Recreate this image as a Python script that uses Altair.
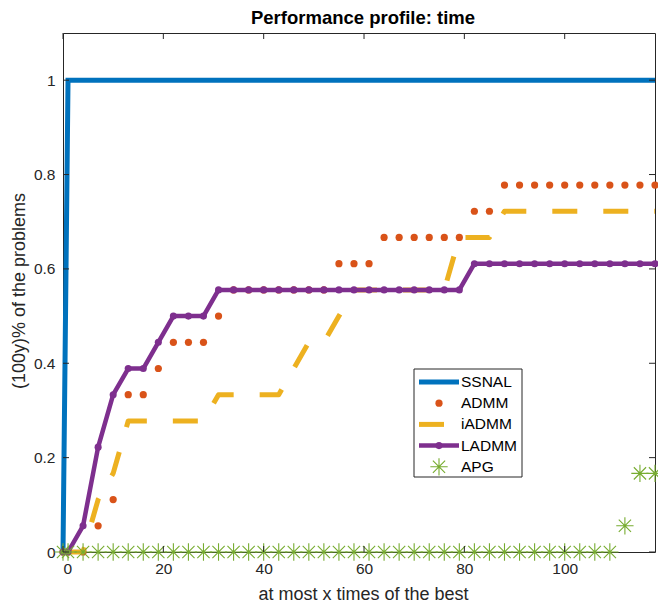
import altair as alt
import pandas as pd

# ---------------- data ----------------
n_problems = 18
x_grid = [0, 1, 4, 7, 10, 13, 16, 19, 22, 25, 28, 31, 34, 37, 40, 43, 46, 49, 52, 55,
          58, 61, 64, 67, 70, 73, 76, 79, 82, 85, 88, 91, 94, 97, 100, 103, 106, 109,
          112, 115, 118]
ssnal_counts = [0, 18, 18, 18, 18, 18, 18, 18, 18, 18, 18, 18, 18, 18, 18, 18, 18, 18, 18, 18,
                18, 18, 18, 18, 18, 18, 18, 18, 18, 18, 18, 18, 18, 18, 18, 18, 18, 18,
                18, 18, 18]
admm_counts = [0, 0, 0, 1, 2, 6, 6, 7, 8, 8, 8, 9, 10, 10, 10, 10, 10, 10, 10, 11,
               11, 11, 12, 12, 12, 12, 12, 12, 13, 13, 14, 14, 14, 14, 14, 14, 14, 14,
               14, 14, 14]
iadmm_counts = [0, 0, 0, 2, 3, 5, 5, 5, 5, 5, 5, 6, 6, 6, 6, 6, 7, 8, 8, 9,
                10, 10, 10, 10, 10, 10, 10, 12, 12, 12, 13, 13, 13, 13, 13, 13, 13, 13,
                13, 13, 13]
ladmm_counts = [0, 0, 1, 4, 6, 7, 7, 8, 9, 9, 9, 10, 10, 10, 10, 10, 10, 10, 10, 10,
                10, 10, 10, 10, 10, 10, 10, 10, 11, 11, 11, 11, 11, 11, 11, 11, 11, 11,
                11, 11, 11]
apg_counts = [0, 0, 0, 0, 0, 0, 0, 0, 0, 0, 0, 0, 0, 0, 0, 0, 0, 0, 0, 0,
              0, 0, 0, 0, 0, 0, 0, 0, 0, 0, 0, 0, 0, 0, 0, 0, 0, 0,
              1, 3, 3]

series_names = ["SSNAL", "ADMM", "iADMM", "LADMM", "APG"]
series_colors = ["#0072BD", "#D95319", "#EDB120", "#7E2F8E", "#77AC30"]
x_ticks = [0, 20, 40, 60, 80, 100]
y_ticks = [0, 0.2, 0.4, 0.6, 0.8, 1]
x_domain = [0, 118]
y_domain = [0, 1.1]

chart_title = "Performance profile: time"
x_title = "at most x times of the best"
y_title = "(100y)% of the problems"

# ---------------- layout / style ----------------
W, H = 592, 519
FONT = "Liberation Sans"
AX = "#262626"
STAR = "M-1,0L1,0M0,-1L0,1M-0.707,-0.707L0.707,0.707M-0.707,0.707L0.707,-0.707"


def frame(counts):
    return pd.DataFrame({"x": x_grid, "y": [c / n_problems for c in counts]})


xs = alt.Scale(domain=x_domain, nice=False, zero=False)
ys = alt.Scale(domain=y_domain, nice=False, zero=False)

x_axis = alt.Axis(values=x_ticks, ticks=False, tickSize=0, domain=False, grid=False,
                  labelFont=FONT, labelFontSize=15.5, labelColor=AX, labelPadding=9,
                  title=x_title, titleFont=FONT, titleFontSize=18, titleFontWeight="normal",
                  titleColor=AX, titleX=W / 2 + 4, titleY=42, titleBaseline="middle")
y_axis = alt.Axis(values=y_ticks, format="~g", ticks=False, tickSize=0, domain=False, grid=False,
                  labelFont=FONT, labelFontSize=15.5, labelColor=AX, labelPadding=8,
                  title=y_title, titleFont=FONT, titleFontSize=18, titleFontWeight="normal",
                  titleColor=AX, titleX=-44, titleY=H / 2 - 2, titleBaseline="middle",
                  titleAngle=270)


def X(field):
    return alt.X(field, type="quantitative", scale=xs, axis=x_axis)


def Y(field):
    return alt.Y(field, type="quantitative", scale=ys, axis=y_axis)


ssnal = alt.Chart(frame(ssnal_counts)).mark_line(
    color=series_colors[0], strokeWidth=5, strokeJoin="miter").encode(x=X("x"), y=Y("y"))
admm = alt.Chart(frame(admm_counts)).mark_circle(
    color=series_colors[1], size=52, opacity=1).encode(x=X("x"), y=Y("y"))
iadmm = alt.Chart(frame(iadmm_counts)).mark_line(
    color=series_colors[2], strokeWidth=5, strokeDash=[25, 26], strokeCap="butt",
    strokeJoin="round").encode(x=X("x"), y=Y("y"))
ladmm = alt.Chart(frame(ladmm_counts)).mark_line(
    color=series_colors[3], strokeWidth=4.5, strokeJoin="round",
    point=alt.OverlayMarkDef(filled=True, size=50, color=series_colors[3], opacity=1)
).encode(x=X("x"), y=Y("y"))
apg = alt.Chart(frame(apg_counts)).mark_point(
    shape=STAR, size=300, strokeWidth=1.1, filled=False, color=series_colors[4], opacity=1
).encode(x=X("x"), y=Y("y"))

# inward ticks on all four sides of the box
xt = pd.DataFrame({"t": x_ticks})
yt = pd.DataFrame({"t": y_ticks})
tick_style = dict(color=AX, strokeWidth=1)
ticks = [
    alt.Chart(xt).mark_rule(**tick_style).encode(x=X("t"), y=alt.value(H), y2=alt.value(H - 6)),
    alt.Chart(xt).mark_rule(**tick_style).encode(x=X("t"), y=alt.value(0), y2=alt.value(6)),
    alt.Chart(yt).mark_rule(**tick_style).encode(y=Y("t"), x=alt.value(0), x2=alt.value(6)),
    alt.Chart(yt).mark_rule(**tick_style).encode(y=Y("t"), x=alt.value(W), x2=alt.value(W - 6)),
]

one = pd.DataFrame({"a": [0]})

# chart title as a text mark above the box
title_mark = alt.Chart(one).mark_text(
    align="center", baseline="alphabetic", font=FONT, fontSize=18.5, fontWeight="bold",
    color="#000000").encode(x=alt.value(W / 2 + 4), y=alt.value(-9), text=alt.value(chart_title))

# legend box (drawn in pixel space, like MATLAB's legend)
LX0, LX1, LY0, LY1 = 351, 459, 336, 444
row_y = [349 + i * 21.2 for i in range(len(series_names))]
sym_x0, sym_x1, sym_c, txt_x = 356, 396, 376, 398

legend = [
    alt.Chart(one).mark_rect(fill="white", stroke=AX, strokeWidth=1).encode(
        x=alt.value(LX0), x2=alt.value(LX1), y=alt.value(LY0), y2=alt.value(LY1)),
    alt.Chart(one).mark_rule(color=series_colors[0], strokeWidth=5).encode(
        x=alt.value(sym_x0), x2=alt.value(sym_x1), y=alt.value(row_y[0])),
    alt.Chart(one).mark_circle(color=series_colors[1], size=52, opacity=1).encode(
        x=alt.value(sym_c), y=alt.value(row_y[1])),
    alt.Chart(one).mark_rule(color=series_colors[2], strokeWidth=5, strokeDash=[25, 26],
                             strokeCap="butt").encode(
        x=alt.value(sym_x0), x2=alt.value(sym_x1), y=alt.value(row_y[2])),
    alt.Chart(one).mark_rule(color=series_colors[3], strokeWidth=4.5).encode(
        x=alt.value(sym_x0), x2=alt.value(sym_x1), y=alt.value(row_y[3])),
    alt.Chart(one).mark_circle(color=series_colors[3], size=50, opacity=1).encode(
        x=alt.value(sym_c), y=alt.value(row_y[3])),
    alt.Chart(one).mark_point(shape=STAR, size=300, strokeWidth=1.1, filled=False,
                              color=series_colors[4], opacity=1).encode(
        x=alt.value(sym_c), y=alt.value(row_y[4])),
]
for name, yy in zip(series_names, row_y):
    legend.append(
        alt.Chart(one).mark_text(align="left", baseline="middle", font=FONT, fontSize=15.5,
                                 color="#000000").encode(
            x=alt.value(txt_x), y=alt.value(yy), text=alt.value(name)))

chart = alt.layer(ssnal, admm, iadmm, ladmm, apg, *ticks, title_mark, *legend).properties(
    width=W, height=H,
    autosize=alt.AutoSizeParams(type="none"),
    padding={"left": 55, "top": 25, "right": 3, "bottom": 51},
).configure_view(stroke=AX, strokeWidth=1)

chart.save("out.html", embed_options={"renderer": "svg", "actions": False})
